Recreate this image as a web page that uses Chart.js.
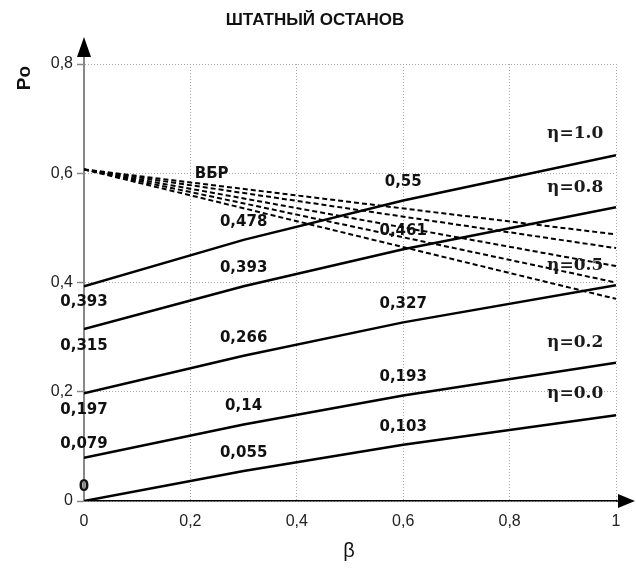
<!DOCTYPE html>
<html>
<head>
<meta charset="utf-8">
<title>Штатный останов</title>
<script src="https://cdn.jsdelivr.net/npm/chart.js@4.4.0/dist/chart.umd.min.js"></script>
<style>
  html, body { margin: 0; padding: 0; background: #fff; }
  #wrap { width: 636px; height: 568px; }
</style>
</head>
<body>
<div id="wrap"><canvas id="chart" width="636" height="568"></canvas></div>
<script>
// β values at which each Po curve is given
const beta = [0, 0.3, 0.6, 1.0];

// Po(β) for each η
const etaNames = ['η=1.0', 'η=0.8', 'η=0.5', 'η=0.2', 'η=0.0'];
const poEta10 = [0.393, 0.478, 0.55, 0.633];
const poEta08 = [0.315, 0.393, 0.461, 0.538];
const poEta05 = [0.197, 0.266, 0.327, 0.395];
const poEta02 = [0.079, 0.14, 0.193, 0.253];
const poEta00 = [0, 0.055, 0.103, 0.157];

// ВБР lines: common start at β = 0, individual values at β = 1
const vbrBeta = [0, 1];
const vbrStart = 0.607;
const vbrEnd = [0.488, 0.463, 0.43, 0.40, 0.37];

// axis ticks
const xTicks = [0, 0.2, 0.4, 0.6, 0.8, 1];
const yTicks = [0, 0.2, 0.4, 0.6, 0.8];

const titleText = 'ШТАТНЫЙ ОСТАНОВ';
const xTitle = 'β';
const yTitle = 'Po';
const vbrText = 'ВБР';

const fmt = v => String(Math.round(v * 1000) / 1000).replace('.', ',');

const solidSeries = [poEta10, poEta08, poEta05, poEta02, poEta00];

const datasets = [];
vbrEnd.forEach(end => {
  datasets.push({
    data: [{ x: vbrBeta[0], y: vbrStart }, { x: vbrBeta[1], y: end }],
    borderColor: '#000',
    borderWidth: 2,
    borderDash: [5, 3],
    pointRadius: 0,
    fill: false
  });
});
solidSeries.forEach((s, k) => {
  datasets.push({
    label: etaNames[k],
    data: beta.map((b, i) => ({ x: b, y: s[i] })),
    borderColor: '#000',
    borderWidth: 2.5,
    pointRadius: 0,
    fill: false,
    valueLabels: true
  });
});

// text, axis arrows and value labels drawn on top of the plot
const decorations = {
  id: 'decorations',
  afterDraw(chart, args, opts) {
    const ctx = chart.ctx;
    const xs = chart.scales.x, ys = chart.scales.y;
    const area = chart.chartArea;
    ctx.save();

    // y axis extension and arrow
    ctx.strokeStyle = '#888';
    ctx.lineWidth = 2;
    ctx.beginPath();
    ctx.moveTo(area.left, area.top);
    ctx.lineTo(area.left, 56);
    ctx.stroke();
    ctx.fillStyle = '#000';
    ctx.beginPath();
    ctx.moveTo(area.left, 37);
    ctx.lineTo(area.left - 7, 57);
    ctx.lineTo(area.left + 7, 57);
    ctx.closePath();
    ctx.fill();

    // x axis extension and arrow
    ctx.strokeStyle = '#000';
    ctx.lineWidth = 1.5;
    ctx.beginPath();
    ctx.moveTo(area.right, area.bottom);
    ctx.lineTo(620, area.bottom);
    ctx.stroke();
    ctx.beginPath();
    ctx.moveTo(635, area.bottom);
    ctx.lineTo(618, area.bottom - 7);
    ctx.lineTo(618, area.bottom + 7);
    ctx.closePath();
    ctx.fill();

    // title
    ctx.fillStyle = '#111';
    ctx.textAlign = 'center';
    ctx.textBaseline = 'middle';
    ctx.font = 'bold 17px "Liberation Sans", Arial, sans-serif';
    ctx.fillText(titleText, 315, 20);

    // axis titles
    ctx.font = '20px "Liberation Sans", Arial, sans-serif';
    ctx.fillText(xTitle, 349, 551);
    ctx.save();
    ctx.translate(25, 78);
    ctx.rotate(-Math.PI / 2);
    ctx.font = 'bold 19px "Liberation Sans", Arial, sans-serif';
    ctx.fillText(yTitle, 0, 0);
    ctx.restore();

    // values along the curves
    ctx.font = 'bold 15px "DejaVu Sans", Verdana, sans-serif';
    ctx.fillStyle = '#111';
    let k = 0;
    chart.data.datasets.forEach(ds => {
      if (!ds.valueLabels) return;
      ds.data.forEach((p, i) => {
        if (i >= opts.labelledPoints) return;
        const dy = i === 0 ? opts.startOffsets[k] : opts.innerOffset;
        ctx.fillText(fmt(p.y), xs.getPixelForValue(p.x), ys.getPixelForValue(p.y) + dy);
      });
      k++;
    });

    // ВБР caption
    ctx.fillText(vbrText, xs.getPixelForValue(opts.vbrAt.x), ys.getPixelForValue(opts.vbrAt.y));

    // η captions
    ctx.font = 'bold 17px "DejaVu Serif", "Liberation Serif", serif';
    ctx.fillStyle = '#1a1a1a';
    ctx.textAlign = 'right';
    ctx.textBaseline = 'alphabetic';
    etaNames.forEach((name, j) => {
      ctx.fillText(name, xs.getPixelForValue(opts.etaAtX), ys.getPixelForValue(opts.etaAtY[j]));
    });

    ctx.restore();
  }
};

new Chart(document.getElementById('chart'), {
  type: 'line',
  data: { datasets },
  options: {
    responsive: false,
    animation: false,
    devicePixelRatio: 1,
    layout: { padding: { top: 64, right: 20, left: 0, bottom: 0 } },
    plugins: {
      legend: { display: false },
      title: { display: false },
      tooltip: { enabled: false },
      decorations: {
        labelledPoints: 3,
        startOffsets: [16, 17, 17, -14, -14],
        innerOffset: -18,
        vbrAt: { x: 0.24, y: 0.598 },
        etaAtX: 0.976,
        etaAtY: [0.664, 0.566, 0.423, 0.282, 0.189]
      }
    },
    scales: {
      x: {
        type: 'linear',
        min: 0,
        max: 1,
        afterBuildTicks: s => { s.ticks = xTicks.map(v => ({ value: v })); },
        afterFit: s => { s.height = 67; },
        ticks: {
          color: '#222',
          padding: 11,
          maxRotation: 0,
          font: { family: '"Liberation Sans", Arial, sans-serif', size: 16 },
          callback: v => fmt(v)
        },
        grid: { color: '#a8a8a8', lineWidth: 1, drawTicks: false },
        border: { color: '#000', width: 1.5, dash: [1, 2] }
      },
      y: {
        type: 'linear',
        min: 0,
        max: 0.8,
        afterBuildTicks: s => { s.ticks = yTicks.map(v => ({ value: v })); },
        afterFit: s => { s.width = 84; },
        ticks: {
          color: '#222',
          padding: 4,
          font: { family: '"Liberation Sans", Arial, sans-serif', size: 16 },
          callback: v => fmt(v)
        },
        grid: {
          color: '#a8a8a8',
          lineWidth: 1,
          tickLength: 7,
          tickColor: '#888',
          tickWidth: 1.5,
          tickBorderDash: []
        },
        border: { color: '#888', width: 2, dash: [1, 2] }
      }
    }
  },
  plugins: [decorations]
});
</script>
</body>
</html>
